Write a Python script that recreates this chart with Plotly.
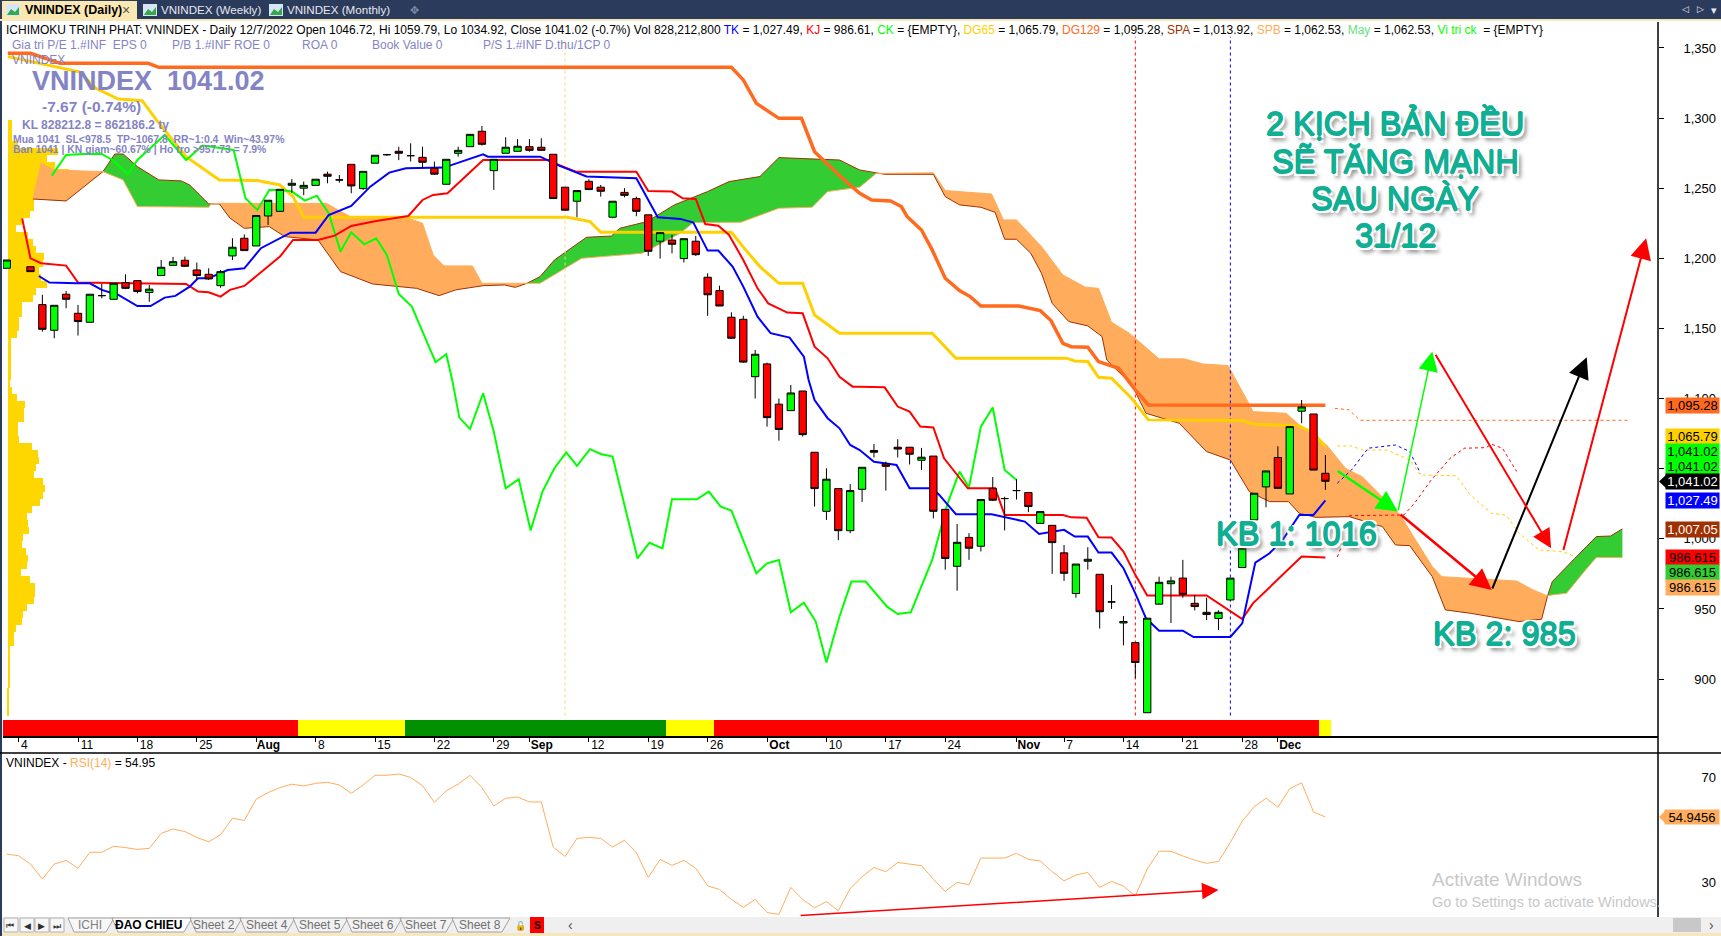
import plotly.graph_objects as go

W, H = 1721, 936
def px(x): return x / W
def py(y): return 1 - y / H

# ---------- DATA ----------
c_bars = [-1] + list(range(1, 111))
c_open = [1192.9,1194,1167,1148.7,1174.4,1160.8,1154.4,1173.4,1170.8,1182.7,1184.1,1175.6,1187.7,1195,1198.6,1191.7,1188.6,1180.5,1201.7,1214.3,1208.8,1230.2,1233.5,1252.1,1250,1252,1260,1255.9,1267,1249.7,1267.8,1273.9,1276.3,1273.2,1272,1264.2,1252.8,1274.9,1279.6,1290.6,1262.5,1274.9,1276.3,1279.6,1279.2,1274.2,1250.7,1240.7,1254.9,1250.7,1229.3,1247,1242.6,1231,1212.2,1213,1199.8,1212.2,1186.5,1177,1158,1156.5,1115.6,1124.7,1096,1091.4,1105.4,1061.7,1019.6,1035.8,1005.8,1035.3,1063,1053.4,1065.3,1065.3,1056,1059,1021,980.4,1001,994.7,1036,1028.7,1034.4,1033,1011,1009.6,990,961,984,974.7,955,940,926,876,953.4,968,972,954,947.6,943.2,956.4,979.5,1013.5,1037,1058,1032,1091,1089,1046.72]
c_high = [1198.8,1194,1174,1166.5,1176.7,1166.8,1174.4,1181.7,1182.2,1188.6,1184.1,1181,1198.8,1201,1201.2,1197,1192.9,1191.7,1214.3,1217,1230.5,1241.4,1249.2,1256.6,1254.7,1256.4,1261.8,1259.4,1267,1262,1273.5,1274.5,1279.6,1282,1279.6,1269,1270.6,1279.6,1288.4,1294.4,1270.6,1286.3,1285,1285,1285.6,1274.2,1250.7,1248.3,1256.4,1252.3,1240.7,1250,1244,1231,1218.3,1216.7,1214,1216,1189.3,1180.5,1161.5,1159,1134.7,1125.6,1100,1109.7,1105.4,1061.7,1050.3,1035.8,1039,1051,1067.6,1055,1071,1065.3,1064.8,1059,1021,1010.6,1004,1028,1044,1030,1042.5,1033,1019.4,1009.6,995.6,982,994,974.7,967,945,926,943.4,973,973,985,960,958,949,972,993.3,1032.5,1048.4,1066,1080,1099,1089,1059.79]
c_low = [1192.9,1190.5,1147.7,1143,1164.4,1144.9,1154.4,1171.5,1170.8,1178,1175,1169,1187.7,1195,1194,1184.6,1184.6,1179,1198.8,1205.5,1208.8,1223.8,1233,1246.8,1245,1252,1253.5,1254,1246.4,1248.8,1267.8,1273,1270,1269,1264.2,1259.4,1252.8,1272.5,1279.6,1280.4,1248.8,1274.9,1276,1276,1277,1242.6,1234.3,1229.3,1249,1244,1228.6,1243.5,1230,1201.7,1199.8,1203.6,1197,1201.7,1159,1166,1142.5,1125.5,1100,1080,1070,1091.4,1072.9,1023,1013.5,999,1004,1026.3,1058,1034.4,1058,1053,1049,1014.6,978,963,985,991,1027,1006,1028,1019,1011,975,970,958,978,936,950,924,900.6,876,954,940,958,949,942,935,955.5,979.5,1013.5,1022.5,1036,1032,1082.4,1049,1034.92]
c_close = [1198.8,1190.5,1149.4,1166.5,1170.8,1154.9,1174.4,1173.4,1182.2,1178.6,1176.3,1178,1193.6,1197.6,1194.3,1187.7,1185.3,1190.5,1207.9,1205.5,1230.5,1241.4,1249.2,1253.5,1252,1256.4,1258.5,1255.9,1251.6,1262,1273.5,1273.9,1274.9,1273.2,1268.5,1260,1270.6,1277,1288.4,1281.3,1270.6,1279.2,1279.9,1277,1277,1242.6,1234.3,1248.3,1249,1247.8,1240.7,1244.9,1233.5,1205,1218.3,1210,1214,1202.6,1174,1166,1143,1126,1131.6,1086.4,1078,1104,1074.3,1035.8,1042.5,1005.8,1034.4,1051,1061.7,1051.7,1064,1060.3,1058.2,1019.6,986,997.5,993.3,1028,1027.5,1028.7,1034.4,1023,1019.4,997.3,975.4,982,985.4,948,955,941,911.8,943.4,969,970,960.4,951.7,946,947.6,972,993.3,1032.5,1048.4,1036,1080,1094,1049,1041.02]

tk_bars = [1.7,2.6,4.9,6,7,8.4,10,11.1,12.3,13.2,14.4,15.1,16,17.6,19,20.4,22.9,25,26.1,28,29.6,31.2,32.6,35.8,39.1,39.5,43.9,45.5,47.8,52,53.8,55.7,56.8,58,58.9,60.1,61,62.2,63.3,64.9,66.1,66.5,67,68.1,69.1,70,70.8,72,73.9,75,76.9,77.5,78.9,81.9,84.7,85.9,88,88.9,90,90.9,92,93,94,94.9,96,98,98.9,102,103,104.1,105.3,106.4,107.8,109,110]
tk_vals = [1187.4,1182.7,1182.2,1182.2,1177.5,1173.9,1166,1166,1172,1173.2,1179.8,1185.8,1185.8,1191.7,1192.9,1207.2,1218.3,1218.3,1230.9,1237.3,1251.1,1261.1,1264.2,1264.7,1274.2,1272.5,1272.5,1266.1,1258.3,1257.1,1229.3,1228.1,1225.5,1205.5,1205.5,1194.1,1179.8,1158.4,1146.6,1143.5,1129.9,1113.3,1099,1086,1078.8,1066.9,1063.3,1055,1052.6,1036,1036,1031.3,1017.5,1017.5,1012.3,1003.5,1006.4,1001.6,1001.6,990.2,990.2,979,961.1,943.3,934.5,934.5,930,930,939.7,983,989.7,999.2,1017,1017,1027.49]
kj_bars = [0.3,0.7,1,1.9,4,5,14.1,15.1,16,17,17.8,19,20.4,22,23.1,25.2,26.6,28,30.1,32.8,34,34.9,36.1,39.1,44.6,45.1,46.9,52,53,55,55.9,57,57.8,58.9,59.8,61,62.2,63.1,64.7,66,67,68.1,69.1,70.2,70.8,72.9,74,75,75.9,77,77.9,79.9,82.2,83,87.9,88.6,89.9,90.9,92,93,94,95,100,103,103.9,104.8,106,106.9,108,110]
kj_vals = [1228.5,1213,1200,1196.5,1194.8,1182.7,1181.7,1176.3,1175.8,1172.7,1177.5,1180.3,1189.8,1201.2,1213.1,1213.1,1216.2,1223.1,1226.6,1230.2,1241.6,1245.2,1246.4,1270.1,1270.1,1267.8,1261.8,1261.8,1248,1247.6,1242.8,1242.3,1224.5,1223.3,1216.7,1198.8,1178.6,1167.9,1161.3,1160.8,1137,1128.7,1115.6,1108.5,1108.5,1108,1094.3,1090.7,1080,1079.4,1057.4,1036,1036,1017,1017,1015.3,1015.1,1001.1,1000.9,990.9,974.3,959.6,959.6,942.7,954,961.2,970.7,977.8,987.3,986.61]
ck_bars = [2.8,4,5.4,7,7.9,9.2,10,12.3,14.1,15.5,18.1,19.1,20.1,21.1,22,23,24.1,25.1,26.1,27.1,28,29.1,30.1,31,32,33.1,35.1,36,36.5,37.1,38,39.1,40,41,42.1,43.1,44.1,45.1,46.1,47,48.1,49,50,51.1,52.1,53.1,54.2,55,57.1,58.1,59.1,60,62.1,63,64,65,66.1,67.1,68,69.1,70.1,70.8,71.3,73.1,74,75.1,76.9,78.2,79.2,80,81,82,83,84]
ck_vals = [1259,1273.7,1274.4,1274.4,1270.1,1259.9,1270.1,1288,1270.1,1280.4,1277.3,1242.8,1234.5,1248.8,1248.8,1247.6,1241.1,1244.7,1232.1,1204.8,1218.6,1210,1214.3,1202.4,1174.6,1165.6,1125.9,1131.6,1113.3,1086.4,1078.3,1103.8,1076.4,1036,1042.5,1005.9,1033.7,1050.3,1061.7,1052,1063.9,1060.5,1058.6,1020.5,986,997.2,993.2,1028.2,1028.2,1033.7,1023,1020.1,975.4,982.5,984.9,947.6,954.5,941,911.8,944.6,969.5,969.5,969.5,951.6,946.4,947.6,984.9,1025.3,1047.9,1036.7,1080,1093.6,1049.1,1041.9]
dg65_bars = [-0.9,1.7,4.4,5.1,6.5,8.4,10.4,11.6,14.1,16.9,20.1,22,23.1,24,46.2,48.1,49,60,61.2,62.4,64,66,67,69.1,76.9,78.9,88.2,88.9,90,90.9,92,93.7,95.1,103,104,107.8,109,110]
dg65_vals = [1343.8,1339,1334.3,1333,1321.2,1313.6,1312.4,1298.7,1272.5,1255.9,1255.4,1252.3,1244,1229.3,1229.3,1226.2,1218.6,1218.6,1206,1194.1,1182.2,1182.2,1159.6,1146.6,1146.6,1128.8,1128.8,1126.8,1126.4,1115.2,1114.5,1100,1084.8,1084.3,1081.7,1080.5,1075.3,1065.79]
dg129_bars = [-0.9,1,3.5,10.9,11.8,60,61,62.1,64,65.9,67,69.5,70.8,71.8,73.4,74.3,74.8,76,76.9,78,79.2,80.1,81,84.2,86,86.9,87.9,88.6,90,90.9,92.6,94,95.1,110]
dg129_vals = [1346.2,1346.2,1339,1339,1336.2,1336.2,1327.2,1310.5,1299.8,1299.8,1276,1255.9,1246.4,1241.6,1240.9,1236.9,1229.7,1220.2,1206,1185.8,1177,1172.7,1166,1166,1162.7,1155.6,1139.4,1137,1136.6,1126.4,1121.6,1106.1,1095.4,1095.28]

dg129_f_bars = [110.8,112,112.9,135.6]
dg129_f_vals = [1093,1092,1084.5,1084.5]
dg65_f_bars = [111,112.2,113.1,115.2,117.1,118,121,122.2,124,125.2,126.3,128,130,131]
dg65_f_vals = [1066.2,1066.2,1063.3,1063.3,1056.2,1045.5,1045,1031.3,1018.2,1017,1004,992,990.9,987.3]
tk_f_bars = [111,112.2,113.6,115.9,117.1,118]
tk_f_vals = [1039.6,1049.1,1064.6,1066.9,1062.2,1046.7]
kj_f_bars = [111,111.3,None,112,116.6,117.5,118.9,120.5,121.7,123.5,124,124.9,126.1]
kj_f_vals = [987,993.4,None,1016.5,1017,1025.3,1041.9,1057.4,1064.6,1065,1067.4,1064.6,1048]

spa_bars = [1.2,4,7.1,8.1,8.8,10,11.8,13.7,14.4,16,16.2,16.9,17.8,19,21.1,22.4,25.2,27.1,29.8,33.5,35.4,36.8,39.1,40.9,41.8,42.8,43.9,45.1,47.8,49.9,50.6,52.9,55.2,58,59.8,62.4,64,67.7,69.1,70.8,72.2,72.9,77,78,79.2,81,82.2,83,84,85.2,86.1,87,88.4,90,91.2,91.6,93,93.5,94.9,97.7,100,102,103.6,105.3,106.9,107.8,109.2,112,114.8,115.9,117.1,119,120.1,122.2,126.3,128.2,128.7,129.1,131,132.8,134,135]
spa_vals = [1242.3,1240.9,1261.8,1274.4,1274.4,1265.4,1255.9,1255.2,1252.3,1238.8,1238.8,1238.8,1228.6,1221.4,1222.6,1215.5,1213.1,1190.5,1181.7,1178.6,1173.4,1177.5,1180.5,1181,1179.3,1182.2,1187,1198.8,1215,1215.9,1221.4,1226.2,1238.1,1247.6,1254.7,1258.3,1271.8,1270.6,1270.1,1263,1260.6,1259.9,1259.9,1244,1238.1,1236.4,1232.8,1213.6,1213.6,1203.6,1189.3,1167.9,1154.9,1151.8,1144.2,1127.5,1115.7,1113.3,1089.5,1082.4,1062.2,1056.2,1033.6,1026.5,1026.5,1018.2,1015.3,1015.8,1008.7,995.6,995.1,973,949.3,946.9,941,942.7,959.3,969.5,986.1,1001.6,1002,1007.05]
spb_bars = [1.2,1.9,3,7,7.1,8.8,10,16,16.2,16.9,25.9,28,32.8,34,34.9,35.8,38.2,39,42.5,42.8,43.9,47.4,52.5,55.7,56.8,60.8,64,66.8,68.1,70.8,72.2,72.9,77,78,81.9,82.9,84,86.1,87.9,89.8,90.9,92,93.5,96,98.1,99.7,101.8,103.4,103.9,106.7,107.8,110.1,111.7,113.1,116.3,117.5,119,119.8,126.1,127.5,128.7,129.1,130.3,131.9,132.8,135]
spb_vals = [1242.3,1267.8,1263,1262.3,1261.8,1255.9,1236.9,1236.4,1238.8,1239.2,1239.2,1229.3,1228.6,1225,1202.4,1194.6,1194.6,1182.2,1182.2,1182.2,1182.2,1200,1203.6,1217.9,1225.5,1225.7,1235.7,1236.4,1247.6,1250.7,1260.6,1260.6,1261,1248.3,1245.9,1227.4,1227.4,1208.4,1188.1,1179.4,1178.6,1154.4,1146.6,1128.3,1128.3,1124.7,1123.5,1099,1090.7,1089.5,1081.2,1066.9,1050.2,1044.3,1017,1000.4,980.2,973,969.9,963.5,959.3,960,961.2,977.8,986.6,986.615]
cloud_cross = [1.2,7.1,16.2,42.8,72.2,128.7,135]
cloud_kind = ["spb","spa","spb","spa","spb","spa"]

profile_prices = [1296-5*k for k in range(85)]
profile_vols = [4,4,4,10,50,39,47,61,64,47,39,26,26,22,14,8,20,25,28,36,35,31,33,39,28,25,14,14,11,11,9,3,3,3,3,3,3,2,4,9,17,16,16,10,10,11,24,30,31,28,26,35,37,35,32,24,19,20,21,15,14,18,20,19,13,22,27,27,26,19,15,14,8,6,6,2,2,2,2,2,2,0.5,0.5,0.5,0.5]

state_bars = list(range(-1, 111))
state_vals = ["red"]*25 + ["yellow"]*9 + ["green"]*22 + ["yellow"]*4 + ["red"]*51 + ["yellow"]*1

rsi_bars = list(range(-1, 111))
rsi_vals = [40.8,40.2,37,31.3,37,38.4,35.4,41.5,41.5,43.8,43.3,42.6,43,48.7,50.4,49.4,47.2,45.5,48.2,54.5,53.7,61.8,64.3,66.2,67.5,66.8,67.8,68.2,67.2,64,67.2,70.9,70.9,71.4,70.1,66.9,60.6,65,67.5,70.9,66.2,59.2,62.1,62.6,60.7,60.7,43.5,39.9,46.8,47.2,46.8,43.5,46.1,41.3,31.9,38.8,36.5,38.4,35.4,28.7,27.3,23.5,20.5,23.5,18.5,17.8,28.1,23.5,20.3,22.7,19.2,27.7,
            32.2,35.7,34.1,37.6,37,36.4,31.2,26.6,30,29.1,39.3,39.3,39.3,41.1,38.8,38.2,34.1,30.6,32.8,33.8,28.1,30.4,28.6,24.8,35.1,41.9,41.9,40.1,38.5,37.3,38,45.3,53.4,58.9,62.1,58.7,65.8,68,56.9,54.95]

NB = "\u00a0"
date_bars = [0,5,10,15,20,25,30,35,40,43,48,53,58,63,68,73,78,84,88,93,98,103,106]
date_text = ["4"+NB*2,"11","18","25",NB*2+"<b>Aug</b>","8"+NB*2,"15","22","29",NB*2+"<b>Sep</b>","12","19","26",NB*2+"<b>Oct</b>","10","17","24",NB*2+"<b>Nov</b>","7"+NB*2,"14","21","28",NB*2+"<b>Dec</b>"]
price_ticks = [900,950,1000,1050,1100,1150,1200,1250,1300,1350]
price_text = ["900","950","1,000","","1,100","1,150","1,200","1,250","1,300","1,350"]
rsi_ticks = [30,70]
vline_bars = [46,94,102]

# scenario arrows: (bar from, price from, bar to, price to)
arrow_a = (110.9,1049.1,116.1,1019.4)
arrow_b = (116.1,1019.4,119,1133.5)
arrow_c = (116.2,1018.2,124,963.5)
arrow_d = (124,963.5,132,1129.4)
arrow_e = (119.2,1132.3,129,993.3)
arrow_f = (130,990.9,137,1214.3)
arrow_g = (65.7,17.3,101,27.1)

# ---------- STYLES ----------
FONT = "Liberation Sans"
ORANGE, LEAF, BROWN = "#FFAD5C", "#33CC33", "#A03000"
LAV = "#8484C4"
x0, x1 = 3, 1658
bar_dx, bar_x0 = 11.88, 18.6
x_range = [(x0-bar_x0)/bar_dx, (x1-bar_x0)/bar_dx]
p_range = [859.4, 1368.5]
r_range = [16.8, 79.4]

fig = go.Figure()
NOH = dict(hoverinfo="skip", showlegend=False)

state_col = {"red":"#FF0000","yellow":"#FFFF00","green":"#009000"}
fig.add_trace(go.Bar(x=state_bars, y=[11.6]*len(state_bars), base=p_range[0], width=1,
                     marker=dict(color=[state_col[s] for s in state_vals], line_width=0), **NOH))
fig.add_trace(go.Bar(y=profile_prices, x=[v/bar_dx for v in profile_vols], base=(7.7-bar_x0)/bar_dx,
                     orientation="h", width=5, marker=dict(color="#FFD700", line_width=0), **NOH))

for a, b, kind in zip(cloud_cross[:-1], cloud_cross[1:], cloud_kind):
    up_b, up_v = (spb_bars, spb_vals) if kind == "spb" else (spa_bars, spa_vals)
    lo_b, lo_v = (spa_bars, spa_vals) if kind == "spb" else (spb_bars, spb_vals)
    ub = [(i, v) for i, v in zip(up_b, up_v) if a <= i <= b]
    lb = [(i, v) for i, v in zip(lo_b, lo_v) if a <= i <= b][::-1]
    pts = ub + lb
    fig.add_trace(go.Scatter(x=[p[0] for p in pts], y=[p[1] for p in pts], mode="lines", fill="toself",
                             fillcolor=ORANGE if kind == "spb" else LEAF, line_width=0, **NOH))
fig.add_trace(go.Scatter(x=spa_bars, y=spa_vals, mode="lines", line=dict(color=BROWN, width=1), **NOH))
fig.add_trace(go.Scatter(x=spb_bars, y=spb_vals, mode="lines", line=dict(color=ORANGE, width=1), **NOH))

for b, col_ in zip(vline_bars, ["#FFD27F", "#FF0000", "#0000FF"]):
    fig.add_trace(go.Scatter(x=[b, b], y=[874, 1358], mode="lines", line=dict(color=col_, width=1, dash="3px,3px"), **NOH))

for bx, vals, col_, w in [(dg129_bars, dg129_vals, "#FF6A1F", 3.5), (dg65_bars, dg65_vals, "#FFD000", 3),
                          (ck_bars, ck_vals, "#00FF00", 2), (kj_bars, kj_vals, "#FF0000", 2), (tk_bars, tk_vals, "#0000FF", 2)]:
    fig.add_trace(go.Scatter(x=bx, y=vals, mode="lines", line=dict(color=col_, width=w), **NOH))
for bx, vals, col_ in [(dg129_f_bars, dg129_f_vals, "#FF6A1F"), (dg65_f_bars, dg65_f_vals, "#FFD000"),
                       (kj_f_bars, kj_f_vals, "#FF0000"), (tk_f_bars, tk_f_vals, "#0000FF")]:
    fig.add_trace(go.Scatter(x=bx, y=vals, mode="lines", line=dict(color=col_, width=1, dash="3px,3px"), **NOH))

fig.add_trace(go.Candlestick(x=c_bars, open=c_open, high=c_high, low=c_low, close=c_close, yaxis="y2",
                             whiskerwidth=0,
                             increasing=dict(fillcolor="#00FF00", line=dict(color="#000000", width=1)),
                             decreasing=dict(fillcolor="#FF0000", line=dict(color="#000000", width=1)),
                             hoverinfo="skip", showlegend=False))

fig.add_trace(go.Scatter(x=rsi_bars, y=rsi_vals, xaxis="x3", yaxis="y4", mode="lines",
                         line=dict(color=ORANGE, width=1), **NOH))

# ---------- ANNOTATIONS ----------
ann = []
def label(x, y, text, size=12, color="#000000", anchor="left", **kw):
    ann.append(dict(xref="paper", yref="paper", x=px(x), y=py(y), text=text, showarrow=False,
                    xanchor=anchor, yanchor="middle", font=dict(family=FONT, size=size, color=color), **kw))

def col(c, t): return f'<span style="color:{c}">{t}</span>'
header = ("ICHIMOKU TRINH PHAT: VNINDEX - Daily 12/7/2022 Open 1046.72, Hi 1059.79, Lo 1034.92, Close 1041.02 (-0.7%) Vol 828,212,800 "
          + col("#0000FF","TK") + " = 1,027.49, " + col("#FF0000","KJ") + " = 986.61, " + col("#00FF00","CK") + " = {EMPTY}, "
          + col("#FFD000","DG65") + " = 1,065.79, " + col("#FF6A1F","DG129") + " = 1,095.28, " + col(BROWN,"SPA") + " = 1,013.92, "
          + col(ORANGE,"SPB") + " = 1,062.53, " + col("#66E080","May") + " = 1,062.53, " + col("#00FF00","Vi tri ck") + "  = {EMPTY}")
label(4, 30, header, 12)
for x, t in [(10.4,"Gia tri P/E 1.#INF  EPS 0"),(170,"P/B 1.#INF ROE 0"),(300,"ROA 0"),(370,"Book Value 0"),(481,"P/S 1.#INF D.thu/1CP 0")]:
    label(x, 45, t, 12, LAV)
label(10, 60, "VNINDEX", 12, LAV)
label(30, 81, "<b>VNINDEX  1041.02</b>", 27, LAV)
label(40, 106, "<b>-7.67 (-0.74%)</b>", 15.5, LAV)
label(20, 125, "<b>KL 828212.8 = 862186.2 ty</b>", 12, LAV)
label(10.5, 139, "<b>Mua 1041  SL&lt;978.5  TP~1067.8  RR~1:0.4  Win~43.97%</b>", 10.4, LAV)
label(10.5, 149, "<b>Ban 1041 | KN giam~60.67% | Ho tro &gt;957.73 = 7.9%</b>", 10.4, LAV)

TEAL = "#10AE93"
SHADOW = ("0.7px 0 0 #10AE93,-0.7px 0 0 #10AE93,0 0.7px 0 #10AE93,0 -0.7px 0 #10AE93,"
          "-2.5px -2.5px 0 #fff,2.5px -2.5px 0 #fff,-2.5px 2.5px 0 #fff,2.5px 2.5px 0 #fff,4px 5px 4px #666")
def big(x, y, t):
    ann.append(dict(xref="paper", yref="paper", x=px(x), y=py(y), text=t, showarrow=False, xanchor="center", yanchor="middle",
                    font=dict(family=FONT, size=32.5, color=TEAL, shadow=SHADOW)))
big(1395, 124, "2 KỊCH BẢN ĐỀU"); big(1395, 161, "SẼ TĂNG MẠNH"); big(1395, 199, "SAU NGÀY"); big(1395, 236, "31/12")
big(1296, 534, "KB 1: 1016"); big(1504, 634, "KB 2: 985")

for arr, c, w, size in [(arrow_a,"#00FF00",2.5,1.7),(arrow_b,"#00FF00",1.5,2.6),(arrow_c,"#FF0000",2.5,1.7),
                        (arrow_d,"#000000",2,2.1),(arrow_e,"#FF0000",2,1.9),(arrow_f,"#FF0000",2,2.1)]:
    ann.append(dict(xref="x", yref="y", axref="x", ayref="y", x=arr[2], y=arr[3], ax=arr[0], ay=arr[1], text="",
                    showarrow=True, arrowhead=2, arrowsize=size, arrowwidth=w, arrowcolor=c))
ann.append(dict(xref="x3", yref="y4", axref="x3", ayref="y4", x=arrow_g[2], y=arrow_g[3], ax=arrow_g[0], ay=arrow_g[1], text="",
                showarrow=True, arrowhead=2, arrowsize=2.2, arrowwidth=1.5, arrowcolor="#FF0000"))

for y, t, bg, fg in [(405.5,"1,095.28","#FF6A1F","#000"),(436.5,"1,065.79","#FFD000","#000"),(451.5,"1,041.02","#00FF00","#000"),
                     (466.5,"1,041.02","#00FF00","#000"),(481.5,"1,041.02","#000000","#fff"),(500.5,"1,027.49","#0000FF","#fff"),
                     (529.5,"1,007.05",BROWN,"#fff"),(557.5,"986.615","#FF0000","#000"),(572.5,"986.615",LEAF,"#000"),(587.5,"986.615",ORANGE,"#000")]:
    ann.append(dict(xref="paper", yref="paper", x=px(1692.5), y=py(y), text=t, showarrow=False, width=53, height=15,
                    bgcolor=bg, borderpad=0, xanchor="center", yanchor="middle", font=dict(family=FONT, size=13, color=fg)))
ann.append(dict(xref="paper", yref="paper", x=px(1692), y=py(817), text="54.9456", showarrow=False, width=54, height=14,
                bgcolor=ORANGE, borderpad=0, xanchor="center", yanchor="middle", font=dict(family=FONT, size=13, color="#000")))
label(4, 763, "VNINDEX - " + col(ORANGE,"RSI(14)") + " = 54.95", 12)
label(1430, 879, "Activate Windows", 19, "#C8C8C8")
label(1430, 902, "Go to Settings to activate Windows.", 14.5, "#C8C8C8")

label(23, 10, "<b>VNINDEX (Daily)</b>", 12.5)
label(120, 10, "×", 14, "#555555")
label(159, 10, "VNINDEX (Weekly)", 11.6, "#E8E8F0")
label(285, 10, "VNINDEX (Monthly)", 11.6, "#E8E8F0")
label(408, 10, "✥", 11, "#8090A8")
label(1680, 9, "◁", 9, "#E8E8F0"); label(1695, 9, "▷", 9, "#E8E8F0"); label(1709, 10, "▾", 11, "#E8E8F0")
for x, t, c in [(90,"ICHI","#808080"),(148,"<b>ĐAO CHIEU</b>","#000"),(214,"Sheet 2","#707070"),(267,"Sheet 4","#707070"),
                (320,"Sheet 5","#707070"),(373,"Sheet 6","#707070"),(426,"Sheet 7","#707070"),(480,"Sheet 8","#707070")]:
    label(x, 925, t, 12, c, anchor="center")
for x, t in [(10,"⏮"),(27,"◀"),(41,"▶"),(57,"⏭")]:
    label(x, 926, t, 9, "#303030", anchor="center")
label(520, 925, "🔓", 9, "#000", anchor="center")
label(537, 925, "<b>S</b>", 10, "#000", anchor="center")
label(570, 925, "‹", 14, "#505050", anchor="center")
label(1711, 925, "›", 14, "#505050", anchor="center")

# ---------- CHROME SHAPES ----------
def rect(xa, ya, xb, yb, fill, layer="above", lw=0, lc=None):
    return dict(type="rect", xref="paper", yref="paper", x0=px(xa), x1=px(xb), y0=py(ya), y1=py(yb),
                fillcolor=fill, line=dict(width=lw, color=lc or fill), layer=layer)
def seg(xa, ya, xb, yb, c="#000000", w=1):
    return dict(type="line", xref="paper", yref="paper", x0=px(xa), x1=px(xb), y0=py(ya), y1=py(yb), line=dict(color=c, width=w), layer="above")
def poly(points, fill, lw=0, lc="#000"):
    d = "M " + " L ".join(f"{px(a):.5f},{py(b):.5f}" for a, b in points) + " Z"
    return dict(type="path", xref="paper", yref="paper", path=d, fillcolor=fill, line=dict(width=lw, color=lc), layer="above")

shapes = [rect(0,0,W,19,"#2B3B5C"), rect(0,19,W,21,"#F6E7BC"), rect(2,1,137,20,"#FBE7B2"),
          rect(0,917,W,933,"#EFEFEF"), rect(0,933,W,936,"#F6E7BC"), rect(1673,918,1701,932,"#C8C8C8"),
          rect(0,21,2,936,"#2B3B5C"), rect(530,917,544,933,"#FF0000")]
for xa in (6, 143, 269):
    shapes.append(rect(xa, 4, xa+14, 16, "#D7E6F7"))
    shapes.append(poly([(xa+1,15),(xa+5,9),(xa+9,12),(xa+13,7),(xa+13,15)], "#35A84A"))
for xa in (4, 20, 35, 50):
    shapes.append(rect(xa, 918, xa+14, 932, "#F7F7F7", lw=1, lc="#B0B0B0"))
tab_edges = [(68,112,"#F7F7F7"),(112,190,"#FFFFFF"),(190,240,"#F2F2F2"),(240,293,"#F2F2F2"),(293,346,"#F2F2F2"),
             (346,400,"#F2F2F2"),(400,452,"#F2F2F2"),(452,508,"#F2F2F2")]
for xa, xb, f in tab_edges:
    shapes.append(poly([(xa,918),(xb+2,918),(xb-6,932),(xa+6,932)], f, 1, "#A0A0A0"))
shapes += [seg(0,753,W,753,"#000",1.5), seg(x1,22,x1,917,"#000",1.5),
           poly([(1659,481.5),(1667,474),(1667,489)], "#000000"),
           poly([(1659,817),(1666,810),(1666,824)], ORANGE)]

# ---------- LAYOUT ----------
fig.update_layout(
    width=W, height=H, margin=dict(l=0, r=0, t=0, b=0), autosize=False,
    paper_bgcolor="#FFFFFF", plot_bgcolor="#FFFFFF", showlegend=False, hovermode=False,
    barmode="overlay", bargap=0, boxgap=0.12, font=dict(family=FONT, size=12, color="#000"),
    shapes=shapes, annotations=ann,
    xaxis=dict(domain=[px(x0), px(x1)], range=x_range, anchor="y", showgrid=False, zeroline=False, rangeslider=dict(visible=False),
               tickmode="array", tickvals=date_bars, ticktext=date_text, ticks="outside", ticklen=4, tickcolor="#000",
               showline=True, linecolor="#000", linewidth=1.5, ticklabelshift=9, ticklabelstandoff=-7,
               tickfont=dict(family=FONT, size=12, color="#000")),
    yaxis=dict(domain=[py(736), py(22)], range=p_range, anchor="x", side="right", showgrid=False, zeroline=False,
               tickmode="array", tickvals=price_ticks, ticktext=[""]*len(price_ticks), ticks="outside", ticklen=5, tickcolor="#000", showline=False),
    yaxis2=dict(domain=[py(736), py(22)], range=p_range, overlaying="y", anchor="free", position=px(1716), side="left", showgrid=False,
                zeroline=False, tickmode="array", tickvals=price_ticks, ticktext=price_text, ticks="", showline=False,
                tickfont=dict(family=FONT, size=13, color="#000")),
    xaxis3=dict(domain=[px(x0), px(x1)], range=x_range, anchor="y3", visible=False),
    yaxis3=dict(domain=[py(917), py(753)], range=r_range, anchor="x3", side="right", showgrid=False, zeroline=False,
                tickmode="array", tickvals=rsi_ticks, ticktext=["", ""], ticks="outside", ticklen=5, tickcolor="#000", showline=False),
    yaxis4=dict(domain=[py(917), py(753)], range=r_range, overlaying="y3", anchor="free", position=px(1716), side="left", showgrid=False,
                zeroline=False, tickmode="array", tickvals=rsi_ticks, ticks="", showline=False,
                tickfont=dict(family=FONT, size=13, color="#000")),
)

assert len(c_bars) == len(c_open) == len(c_high) == len(c_low) == len(c_close)
assert len(rsi_bars) == len(rsi_vals) and len(state_bars) == len(state_vals)
assert len(profile_prices) == len(profile_vols)
assert len(tk_bars) == len(tk_vals) and len(kj_bars) == len(kj_vals) and len(ck_bars) == len(ck_vals)
assert len(dg65_bars) == len(dg65_vals) and len(dg129_bars) == len(dg129_vals)
assert len(spa_bars) == len(spa_vals) and len(spb_bars) == len(spb_vals)

fig.write_html("out.html", config=dict(displayModeBar=False),
               post_script="document.body.style.margin='0';document.body.style.overflow='hidden';")
